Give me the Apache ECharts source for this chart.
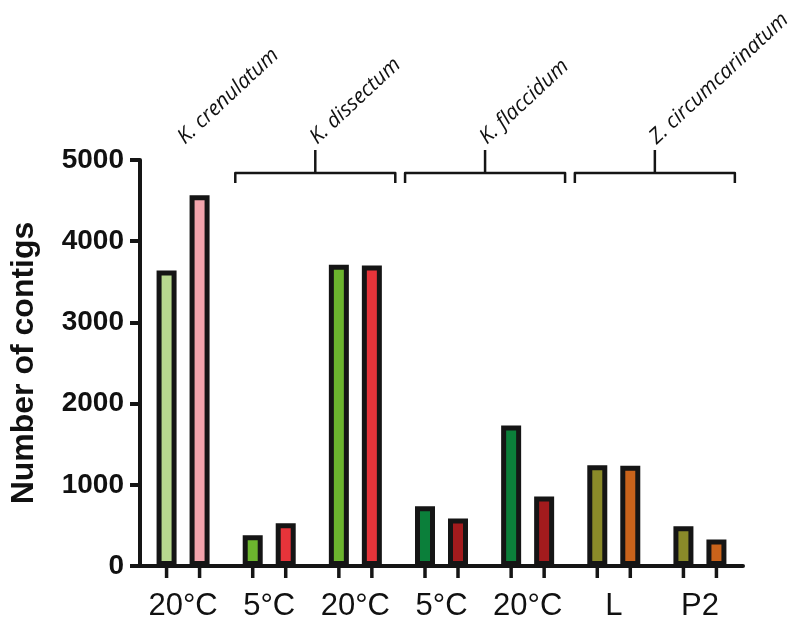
<!DOCTYPE html>
<html>
<head>
<meta charset="utf-8">
<script src="https://cdn.jsdelivr.net/npm/echarts@6/dist/echarts.min.js"></script>
<style>
  html, body { margin: 0; padding: 0; background: #fff; }
  #main { width: 796px; height: 622px; }
</style>
</head>
<body>
<div id="main"></div>
<script>
// categories under the axis
var categories = ['20°C', '5°C', '20°C', '5°C', '20°C', 'L', 'P2'];
// left bar / right bar of each pair
var firstValues = [3640, 380, 3710, 735, 1730, 1240, 490];
var secondValues = [4565, 525, 3700, 585, 855, 1235, 325];
var firstColors = ['#b8d88f', '#6cb52e', '#6cb52e', '#0b7f3a', '#0b7f3a', '#8a8a29', '#8a8a29'];
var secondColors = ['#f2a4ac', '#e6343a', '#e6343a', '#a31b1d', '#a31b1d', '#c9631b', '#c9631b'];
// species names above the bars, with the categories they cover
var speciesNames = ['K. crenulatum', 'K. dissectum', 'K. flaccidum', 'Z. circumcarinatum'];
var speciesFrom = [0, 1, 3, 5];
var speciesTo = [0, 2, 4, 6];

var BAR_W = 20;
var BAR_GAP = 0.65;
var EDGE = '#151515';

var chart = echarts.init(document.getElementById('main'));

function pairData(values, colors) {
    return values.map(function (v, i) {
        return { value: v, itemStyle: { color: colors[i] } };
    });
}

var option = {
    animation: false,
    grid: { left: 129, right: 53, top: 160, bottom: 56 },
    xAxis: {
        type: 'category',
        data: categories,
        axisLine: { lineStyle: { color: EDGE, width: 4 } },
        axisTick: { show: false },
        axisLabel: {
            interval: 0,
            color: '#111',
            fontFamily: 'Liberation Sans',
            fontSize: 31,
            margin: 25
        }
    },
    yAxis: {
        type: 'value',
        min: 0,
        max: 5000,
        interval: 1000,
        name: 'Number of contigs',
        nameLocation: 'middle',
        nameGap: 100,
        nameTextStyle: {
            color: '#111',
            fontFamily: 'Liberation Sans',
            fontWeight: 'bold',
            fontSize: 32
        },
        splitLine: { show: false },
        axisLine: { show: true, lineStyle: { color: EDGE, width: 4 } },
        axisTick: { show: true, length: 10, lineStyle: { color: EDGE, width: 4 } },
        axisLabel: {
            formatter: function (v) { return String(v); },
            color: '#111',
            fontFamily: 'Liberation Sans',
            fontWeight: 'bold',
            fontSize: 28,
            margin: 16
        }
    },
    series: [
        {
            type: 'bar',
            data: pairData(firstValues, firstColors),
            barWidth: BAR_W,
            barGap: (BAR_GAP * 100) + '%',
            itemStyle: { borderColor: EDGE, borderWidth: 5 }
        },
        {
            type: 'bar',
            data: pairData(secondValues, secondColors),
            barWidth: BAR_W,
            barGap: (BAR_GAP * 100) + '%',
            itemStyle: { borderColor: EDGE, borderWidth: 5 }
        },
        {
            // small ticks under every bar
            type: 'custom',
            clip: false,
            silent: true,
            data: categories.map(function (c, i) { return [i, 0]; }),
            renderItem: function (params, api) {
                var p = api.coord([api.value(0), 0]);
                var off = BAR_W * (1 + BAR_GAP) / 2;
                var ls = { stroke: EDGE, lineWidth: 3.5 };
                return {
                    type: 'group',
                    children: [
                        { type: 'line', shape: { x1: p[0] - off, y1: p[1], x2: p[0] - off, y2: p[1] + 12 }, style: ls },
                        { type: 'line', shape: { x1: p[0] + off, y1: p[1], x2: p[0] + off, y2: p[1] + 12 }, style: ls }
                    ]
                };
            }
        }
    ]
};

chart.setOption(option);

// brackets and species names above the plot
function drawSpecies() {
    var top = chart.convertToPixel({ yAxisIndex: 0 }, 5000);
    var els = [];
    for (var i = 0; i < speciesNames.length; i++) {
        var a = chart.convertToPixel({ xAxisIndex: 0 }, speciesFrom[i]);
        var b = chart.convertToPixel({ xAxisIndex: 0 }, speciesTo[i]);
        var cx = (a + b) / 2;
        if (speciesFrom[i] !== speciesTo[i]) {
            cx += 3 - (i - 1) * 2.5;
            var l = cx - 80, r = cx + 80;
            els.push({
                type: 'polyline',
                shape: { points: [[l, top + 23], [l, top + 13], [r, top + 13], [r, top + 23]] },
                style: { stroke: EDGE, lineWidth: 2.5, fill: null, lineJoin: 'round' }
            });
            els.push({
                type: 'line',
                shape: { x1: cx, y1: top + 13, x2: cx, y2: top - 10 },
                style: { stroke: EDGE, lineWidth: 2.5 }
            });
        }
        els.push({
            type: 'text',
            x: cx + 5,
            y: top - 12,
            rotation: 43 * Math.PI / 180,
            style: {
                text: speciesNames[i],
                fill: '#111',
                font: 'italic 21px "Open Sans"',
                align: 'left',
                verticalAlign: 'bottom'
            }
        });
    }
    chart.setOption({ graphic: els });
}
drawSpecies();
</script>
</body>
</html>
